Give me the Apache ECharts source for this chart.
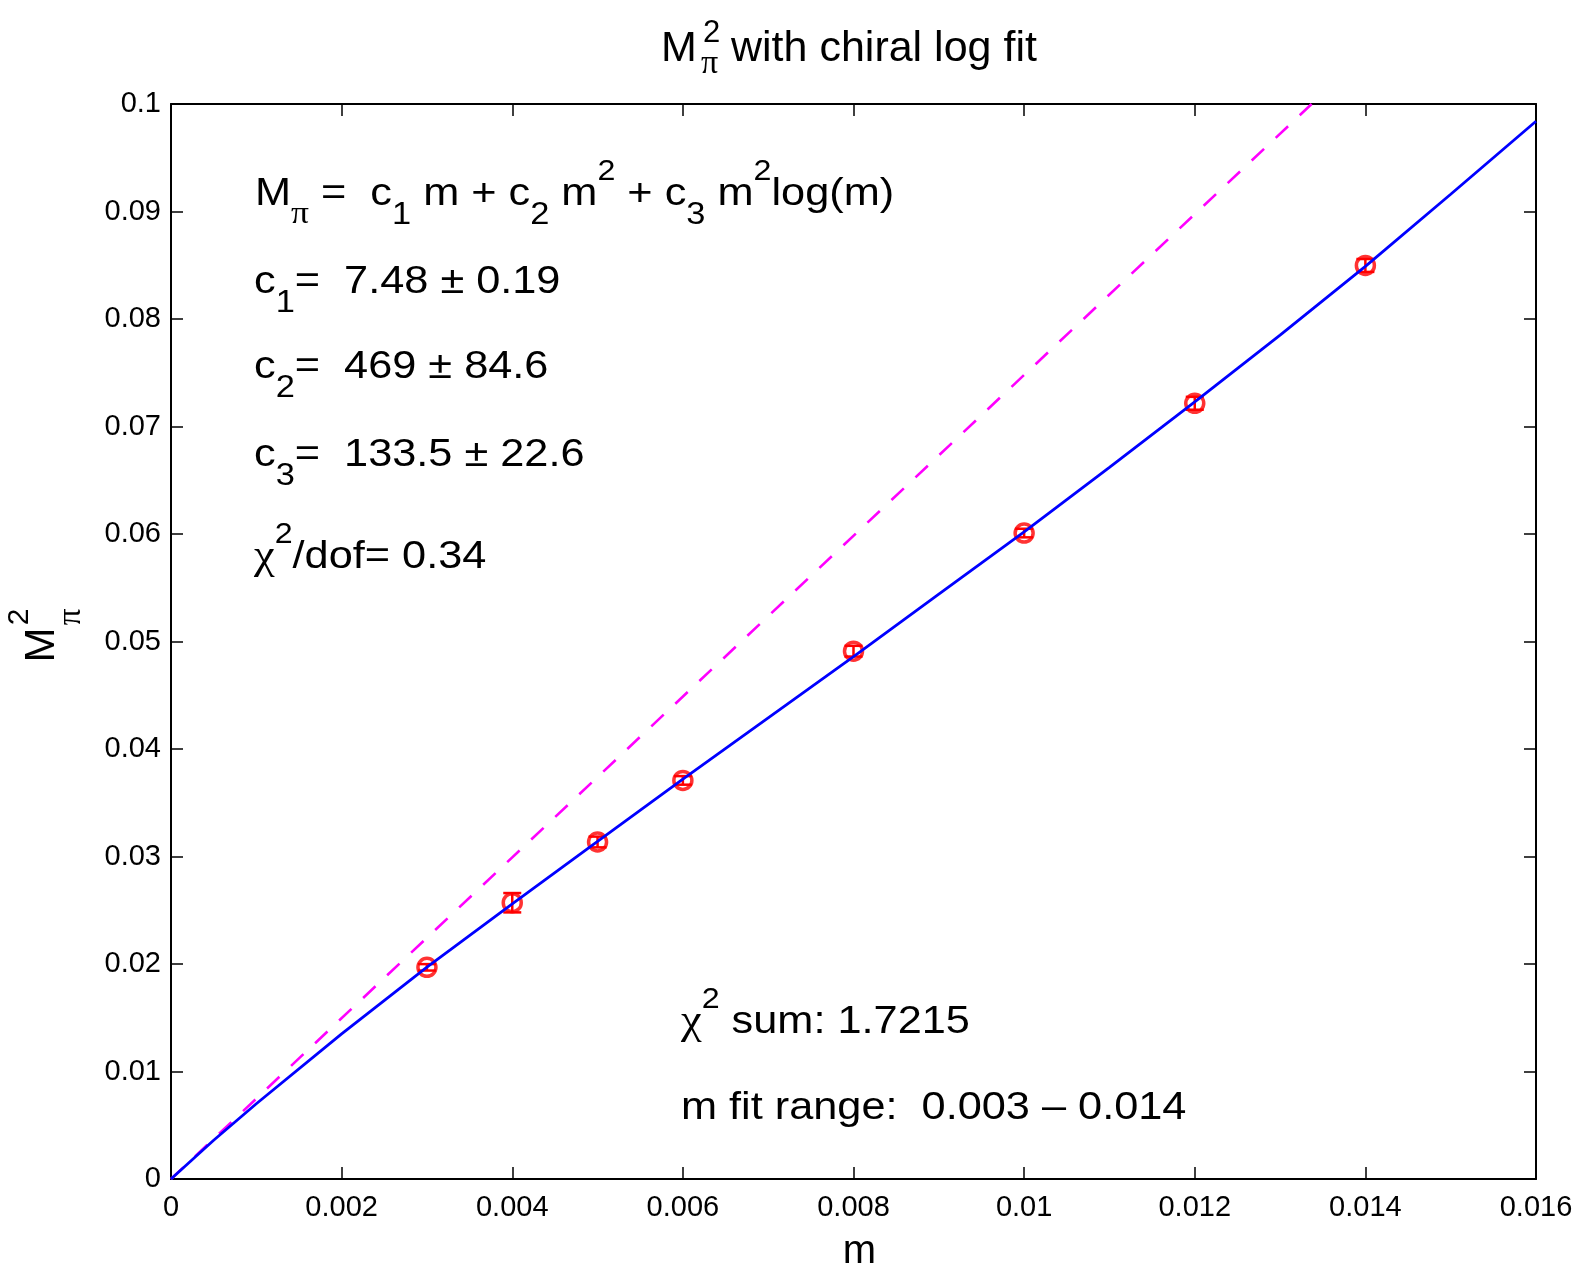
<!DOCTYPE html>
<html>
<head>
<meta charset="utf-8">
<script src="https://cdn.jsdelivr.net/npm/echarts@6/dist/echarts.min.js"></script>
<style>
html,body{margin:0;padding:0;background:#fff;}
#chart{width:1583px;height:1264px;}
</style>
</head>
<body>
<div id="chart"></div>
<script>
// ---- data ----
const mValues   = [0.003, 0.004, 0.005, 0.006, 0.008, 0.010, 0.012, 0.014];
const m2Values  = [0.01969, 0.02570, 0.03135, 0.03708, 0.04910, 0.06009, 0.07216, 0.08498];
const m2Errors  = [0.0003, 0.0009, 0.0005, 0.0004, 0.0005, 0.0004, 0.0006, 0.0006];

const fitM  = [0, 0.0005, 0.001, 0.002, 0.003, 0.004, 0.005, 0.006, 0.007, 0.008, 0.009, 0.010, 0.011, 0.012, 0.013, 0.014, 0.015, 0.016];
const fitM2 = [0, 0.0036, 0.0070, 0.0135, 0.0197, 0.0256, 0.0314, 0.0372, 0.0429, 0.0486, 0.0544, 0.0602, 0.0662, 0.0723, 0.0785, 0.0849, 0.0916, 0.0984];

const linM  = [0, 0.01337];
const linM2 = [0, 0.1];

const xTickLabels = ['0', '0.002', '0.004', '0.006', '0.008', '0.01', '0.012', '0.014', '0.016'];
const yTickLabels = ['0', '0.01', '0.02', '0.03', '0.04', '0.05', '0.06', '0.07', '0.08', '0.09', '0.1'];

const titleText = 'with chiral log fit';
const xName = 'm';

// ---- chart ----
const F = '"Liberation Sans", Arial, Helvetica, sans-serif';
const FS = '"Liberation Serif", "Times New Roman", serif';
const chart = echarts.init(document.getElementById('chart'), null, {renderer: 'canvas'});

const pts = mValues.map((m, i) => [m, m2Values[i], m2Errors[i]]);
const fitData = fitM.map((m, i) => [m, fitM2[i]]);
const linData = linM.map((m, i) => [m, linM2[i]]);

const richStyles = {
  n:  {fontFamily: F, fontSize: 39, lineHeight: 74, verticalAlign: 'middle', fill: '#000'},
  p:  {fontFamily: FS, fontSize: 32, lineHeight: 30, verticalAlign: 'bottom', fill: '#000'},
  b:  {fontFamily: F, fontSize: 31, lineHeight: 32, verticalAlign: 'bottom', fill: '#000'},
  s:  {fontFamily: F, fontSize: 29, lineHeight: 42, verticalAlign: 'top', fill: '#000'},
  g:  {fontFamily: FS, fontSize: 42, lineHeight: 74, verticalAlign: 'middle', fill: '#000'}
};
function ann(x, y, text) {
  return {
    type: 'text', x: x, y: y, scaleX: 1.11, z: 100,
    style: {x: 0, y: 0, text: text, rich: richStyles, align: 'left', verticalAlign: 'top', fill: '#000', font: '39px ' + F}
  };
}
function plain(x, y, text, size, family, align, rot) {
  return {
    type: 'text', x: x, y: y, rotation: rot || 0, z: 100,
    style: {x: 0, y: 0, text: text, fontSize: size, fontFamily: family, align: align || 'left', verticalAlign: 'middle', fill: '#000'}
  };
}

const axisCommon = {
  axisLine: {show: true, onZero: false, lineStyle: {color: '#000', width: 2}},
  axisTick: {show: true, inside: true, length: 12, lineStyle: {color: '#000', width: 1.5}},
  splitLine: {show: false}
};

const option = {
  animation: false,
  backgroundColor: '#fff',
  grid: {left: 171, right: 47, top: 104, bottom: 85, containLabel: false, outerBoundsMode: 'none'},
  xAxis: [
    Object.assign({}, axisCommon, {
      type: 'value', min: 0, max: 0.016, interval: 0.002, position: 'bottom',
      name: xName, nameLocation: 'middle', nameGap: 53,
      nameTextStyle: {fontFamily: F, fontSize: 40, color: '#000', padding: [0, 0, 0, 12]},
      axisLabel: {show: true, margin: 14, fontFamily: F, fontSize: 29, color: '#000',
        formatter: (v) => xTickLabels[Math.round(v / 0.002)]}
    }),
    Object.assign({}, axisCommon, {
      type: 'value', min: 0, max: 0.016, interval: 0.002, position: 'top',
      axisLabel: {show: false}
    })
  ],
  yAxis: [
    Object.assign({}, axisCommon, {
      type: 'value', min: 0, max: 0.1, interval: 0.01, position: 'left',
      axisLabel: {show: true, margin: 10, fontFamily: F, fontSize: 29, color: '#000',
        formatter: (v) => yTickLabels[Math.round(v / 0.01)]}
    }),
    Object.assign({}, axisCommon, {
      type: 'value', min: 0, max: 0.1, interval: 0.01, position: 'right',
      axisLabel: {show: false}
    })
  ],
  series: [
    {
      type: 'line', name: 'linear', data: linData, showSymbol: false, symbol: 'none',
      lineStyle: {color: '#ff00ff', width: 2.6, type: [17, 16]}, z: 3
    },
    {
      type: 'custom', name: 'errors', data: pts, z: 4,
      renderItem: function (params, api) {
        const x = api.value(0), y = api.value(1), e = api.value(2);
        const top = api.coord([x, y + e]);
        const bot = api.coord([x, y - e]);
        const hw = 9;
        const st = {stroke: '#ff0000', lineWidth: 2.5};
        return {
          type: 'group',
          children: [
            {type: 'line', shape: {x1: top[0], y1: top[1], x2: bot[0], y2: bot[1]}, style: st},
            {type: 'line', shape: {x1: top[0] - hw, y1: top[1], x2: top[0] + hw, y2: top[1]}, style: st},
            {type: 'line', shape: {x1: bot[0] - hw, y1: bot[1], x2: bot[0] + hw, y2: bot[1]}, style: st}
          ]
        };
      },
      encode: {x: 0, y: 1}
    },
    {
      type: 'scatter', name: 'data', data: pts.map(p => [p[0], p[1]]), symbol: 'circle', symbolSize: 18, z: 4,
      itemStyle: {color: 'rgba(0,0,0,0)', borderColor: '#ff0000', borderWidth: 3.5}
    },
    {
      type: 'line', name: 'fit', data: fitData, showSymbol: false, symbol: 'none',
      lineStyle: {color: '#0000ff', width: 2.8}, z: 5
    }
  ],
  graphic: [
    // title
    plain(661, 49, 'M', 43, F),
    plain(703, 33, '2', 31, F),
    plain(701, 64, 'π', 34, FS),
    plain(731, 49, titleText, 43, F),
    // y-axis name
    plain(42, 645, 'M', 42, F, 'center', Math.PI / 2),
    plain(20, 617, '2', 30, F, 'center', Math.PI / 2),
    plain(71, 617, 'π', 33, FS, 'center', Math.PI / 2),
    // annotations
    ann(255, 157, '{n|M}{p|π}{n| =  c}{b|1}{n| m + c}{b|2}{n| m}{s|2}{n| + c}{b|3}{n| m}{s|2}{n|log(m)}'),
    ann(254, 245, '{n|c}{b|1}{n|=  7.48 ± 0.19}'),
    ann(254, 330, '{n|c}{b|2}{n|=  469 ± 84.6}'),
    ann(254, 418, '{n|c}{b|3}{n|=  133.5 ± 22.6}'),
    ann(254, 520, '{g|χ}{s|2}{n|/dof= 0.34}'),
    ann(681, 985, '{g|χ}{s|2}{n| sum: 1.7215}'),
    ann(681, 1071, '{n|m fit range:  0.003 – 0.014}')
  ]
};
chart.setOption(option);
</script>
</body>
</html>
